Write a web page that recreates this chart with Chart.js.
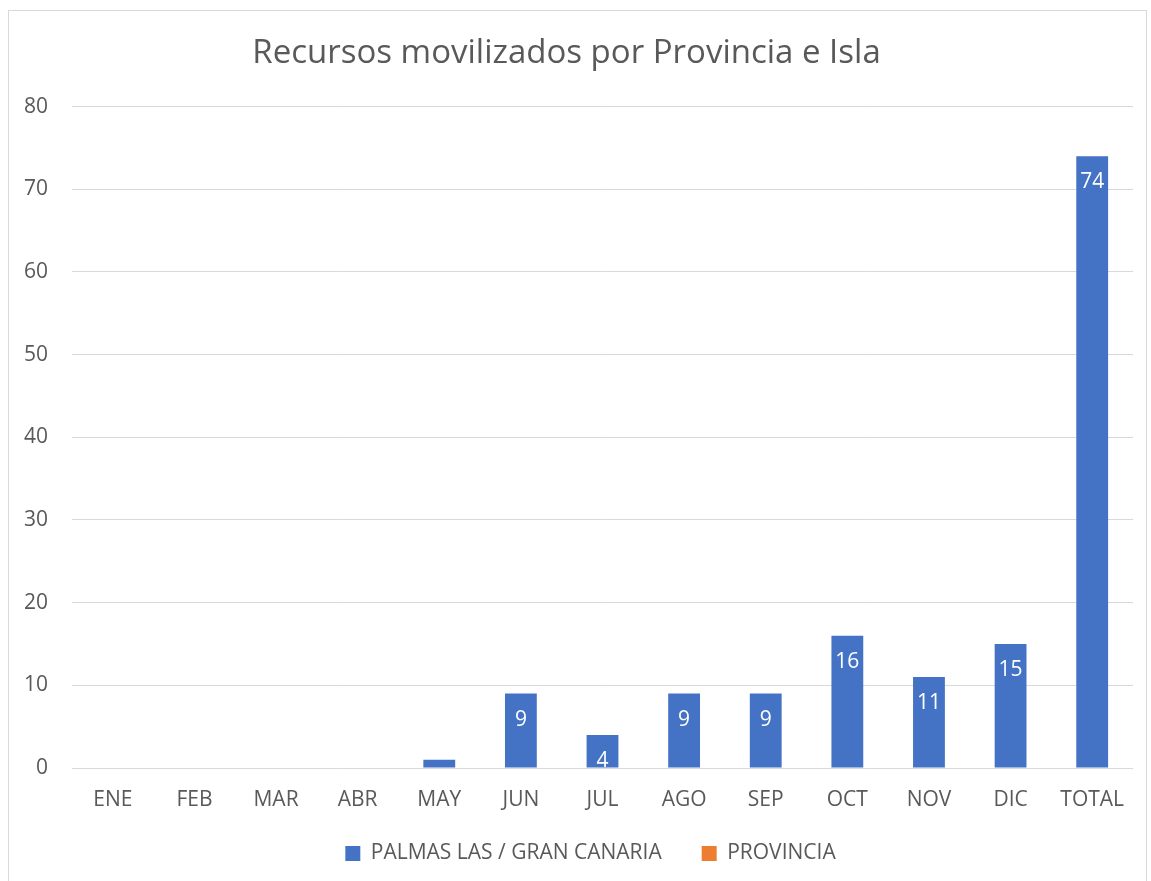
<!DOCTYPE html>
<html>
<head>
    <meta charset='UTF-8'>
    <script src="https://cdn.jsdelivr.net/npm/chart.js"></script>
    <style>
        body { margin: 0; background: #fff; }
        #frame { position: absolute; left: 8px; top: 10px; width: 1139px; height: 880px;
                 border: 1px solid #d9d9d9; border-bottom: none; box-sizing: border-box; }
        #wrap { position: absolute; left: 0; top: 0; width: 1151px; height: 881px; }
    </style>
</head>
<title>Recursos movilizados</title>
<body>
    <div id="frame"></div>
    <div id="wrap"><canvas id="myChart" width="1151" height="881"></canvas></div>
    <script>
        const months = ['ENE', 'FEB', 'MAR', 'ABR', 'MAY', 'JUN', 'JUL', 'AGO', 'SEP', 'OCT', 'NOV', 'DIC', 'TOTAL'];
        const palmasValues = [0, 0, 0, 0, 1, 9, 4, 9, 9, 16, 11, 15, 74];
        const provinciaValues = [null, null, null, null, null, null, null, null, null, null, null, null, null];
        const yTicks = [0, 10, 20, 30, 40, 50, 60, 70, 80];

        const fontFam = "'Open Sans', 'Noto Sans', sans-serif";
        const gray = '#595959';

        // white value labels just inside the top of each bar
        const barLabels = {
            id: 'barLabels',
            afterLayout(chart) {
                // legend sits a little right of centre in the original
                chart.legend.left += 24;
                chart.legend.right += 24;
            },
            afterDatasetsDraw(chart) {
                const ctx = chart.ctx;
                const meta = chart.getDatasetMeta(0);
                const area = chart.chartArea;
                ctx.save();
                ctx.beginPath();
                ctx.rect(area.left, area.top, area.right - area.left, area.bottom - area.top);
                ctx.clip();
                ctx.fillStyle = '#ffffff';
                ctx.font = "21px " + fontFam;
                ctx.textAlign = 'center';
                ctx.textBaseline = 'middle';
                meta.data.forEach(function (bar, i) {
                    const v = palmasValues[i];
                    if (!v) return;
                    const y = bar.y + 26;
                    if (y > bar.base) return;
                    ctx.fillText(String(v), bar.x, y);
                });
                ctx.restore();
            }
        };

        const myChart = new Chart(document.getElementById('myChart'), {
            type: 'bar',
            data: {
                labels: months,
                datasets: [{
                    label: 'PALMAS LAS / GRAN CANARIA',
                    data: palmasValues,
                    backgroundColor: '#4472C4',
                    barPercentage: 0.78,
                    categoryPercentage: 0.5,
                    grouped: false
                }, {
                    label: 'PROVINCIA',
                    data: provinciaValues,
                    backgroundColor: '#ED7D31',
                    barPercentage: 0.78,
                    categoryPercentage: 0.5,
                    grouped: false
                }]
            },
            options: {
                responsive: false,
                animation: false,
                layout: { padding: { left: 0, right: 18, top: 0, bottom: 7 } },
                plugins: {
                    title: {
                        display: true,
                        text: 'Recursos movilizados por Provincia e Isla',
                        color: gray,
                        font: { family: fontFam, size: 33, weight: 'normal' },
                        padding: { top: 34, bottom: 33 }
                    },
                    legend: {
                        position: 'bottom',
                        labels: {
                            color: gray,
                            font: { family: fontFam, size: 21 },
                            boxWidth: 15,
                            boxHeight: 15,
                            padding: 40
                        }
                    },
                    tooltip: { enabled: false }
                },
                scales: {
                    x: {
                        grid: { display: false },
                        border: { display: false },
                        ticks: { color: gray, font: { family: fontFam, size: 21 }, padding: 11 },
                        afterFit(scale) {
                            scale.height = 35;
                            // let the month labels spill below the short axis box
                            scale._computeLabelArea = function () { return undefined; };
                        }
                    },
                    y: {
                        min: 0,
                        max: 80,
                        afterBuildTicks(scale) { scale.ticks = yTicks.map(v => ({ value: v })); },
                        grid: { color: '#d9d9d9', lineWidth: 1, drawTicks: false },
                        border: { display: false },
                        ticks: { color: gray, font: { family: fontFam, size: 21 }, padding: 24 },
                        afterFit(scale) { scale.width = 72; }
                    }
                }
            },
            plugins: [barLabels]
        });
    </script>
</body>
</html>
